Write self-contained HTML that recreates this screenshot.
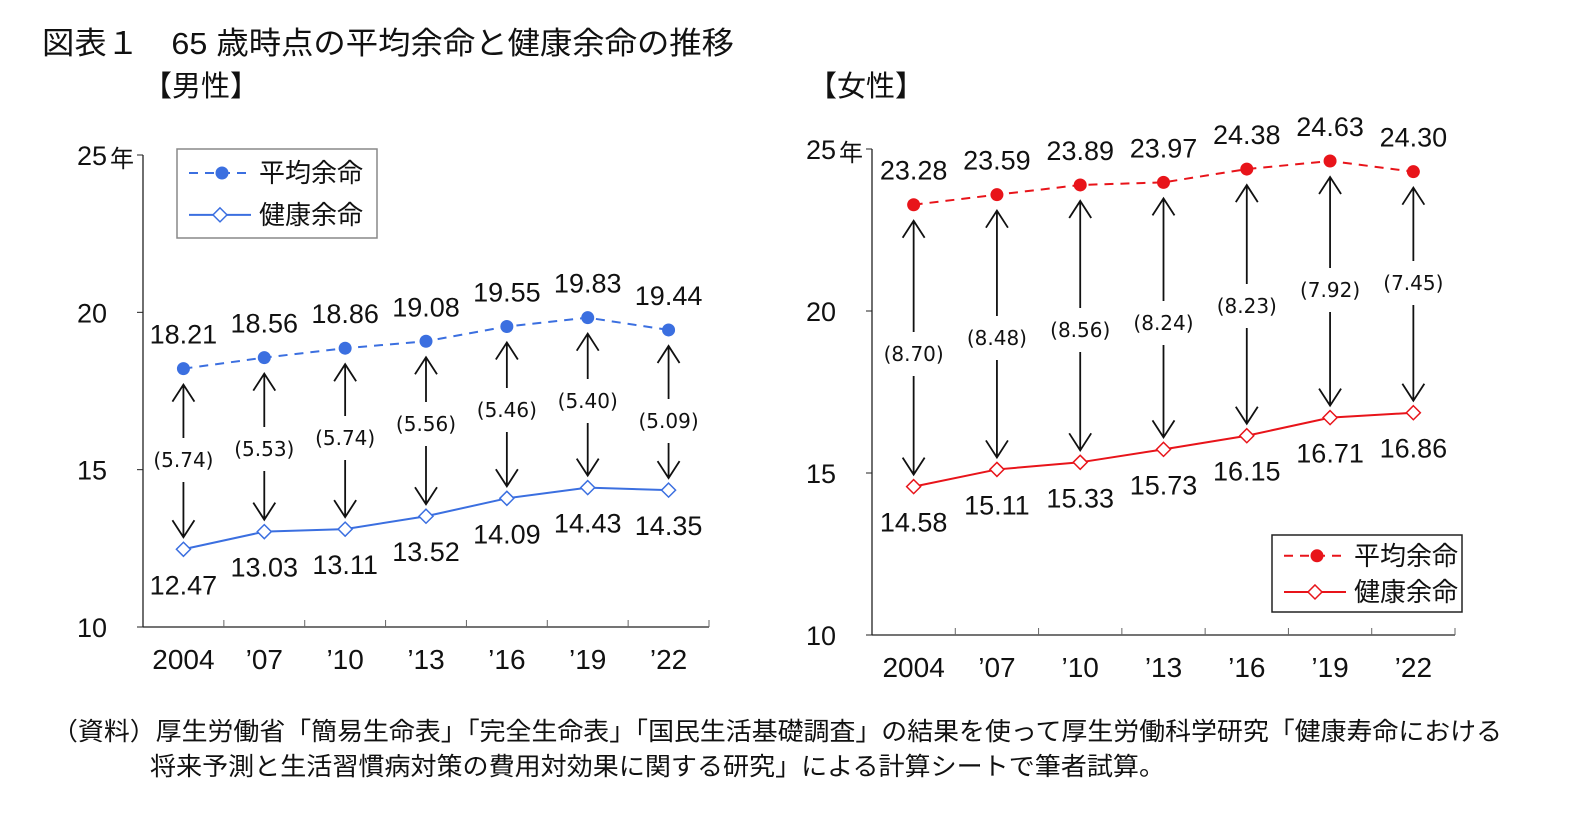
<!DOCTYPE html>
<html><head><meta charset="utf-8"><style>
body{margin:0;background:#fff;}
svg{display:block;font-family:"Liberation Sans","Noto Sans CJK JP",sans-serif;}
.num{font-family:"Liberation Sans","Noto Sans CJK JP",sans-serif;font-size:27px;fill:#111;}
.dif{font-family:"DejaVu Sans",sans-serif;font-size:20px;fill:#111;}
</style></head><body>
<svg id="c" width="1578" height="817" viewBox="0 0 1578 817">
<text x="42" y="54" font-size="31" fill="#111" textLength="692" lengthAdjust="spacingAndGlyphs">図表１　65 歳時点の平均余命と健康余命の推移</text>
<text x="143" y="96" font-size="29" fill="#111">【男性】</text>
<text x="808" y="96" font-size="29" fill="#111">【女性】</text>
<text x="52" y="740" font-size="25" fill="#111" textLength="1450" lengthAdjust="spacingAndGlyphs">（資料）厚生労働省「簡易生命表」「完全生命表」「国民生活基礎調査」の結果を使って厚生労働科学研究「健康寿命における</text>
<text x="150" y="775" font-size="25" fill="#111" textLength="1015" lengthAdjust="spacingAndGlyphs">将来予測と生活習慣病対策の費用対効果に関する研究」による計算シートで筆者試算。</text>
<g id="g"></g>
</svg>
<script>
const categories = ["2004","’07","’10","’13","’16","’19","’22"];
const maleAvg = [18.21,18.56,18.86,19.08,19.55,19.83,19.44];
const maleHealthy = [12.47,13.03,13.11,13.52,14.09,14.43,14.35];
const maleGap = ["(5.74)","(5.53)","(5.74)","(5.56)","(5.46)","(5.40)","(5.09)"];
const femaleAvg = [23.28,23.59,23.89,23.97,24.38,24.63,24.30];
const femaleHealthy = [14.58,15.11,15.33,15.73,16.15,16.71,16.86];
const femaleGap = ["(8.70)","(8.48)","(8.56)","(8.24)","(8.23)","(7.92)","(7.45)"];
const yTicks = [10,15,20,25];

const NS="http://www.w3.org/2000/svg";
const root=document.getElementById('g');
function mk(tag,attrs,parent){const e=document.createElementNS(NS,tag);for(const k in attrs)e.setAttribute(k,attrs[k]);(parent||root).appendChild(e);return e;}

function panel(p){
  const g=mk('g',{});
  
  
  const n=categories.length, bw=(p.x1-p.x0)/n;
  const X=i=>p.x0+bw*(i+0.5);
  const Y=v=>p.yb-(v-10)*(p.yb-p.yt)/15;
  const ya=mk('line',{x1:p.x0,y1:Y(25),x2:p.x0,y2:Y(10),stroke:'#222','stroke-width':1.3},g);
  
  
  const xa=mk('line',{x1:p.x0,y1:Y(10),x2:p.x1,y2:Y(10),stroke:'#222','stroke-width':1.3},g);
  
  
  yTicks.forEach(t=>{
    mk('line',{x1:p.x0-6,y1:Y(t),x2:p.x0,y2:Y(t),stroke:'#222'},g);
    const tx=mk('text',{x:p.x0-36,y:Y(t)+10,'text-anchor':'end','font-size':27,fill:'#111'},g);
    tx.textContent=t;
    
    
  });
  const unit=mk('text',{x:p.x0-33,y:Y(25)+12,'font-size':24,fill:'#111'},g);
  unit.textContent='年';
  
  
  for(let i=1;i<=n;i++) mk('line',{x1:p.x0+bw*i,y1:Y(10),x2:p.x0+bw*i,y2:Y(10)-7,stroke:'#666'},g);
  categories.forEach((c,i)=>{
    const t=mk('text',{x:X(i),y:Y(10)+42,'text-anchor':'middle','font-size':28,fill:'#111'},g);
    t.textContent=c;
    
    
  });
  p.avg.forEach((v,i)=>{
    const ly=p.gapY[i], x=X(i);
    const top=Y(v)+16, bot=Y(p.hl[i])-12;
    const a1=mk('path',{d:`M${x},${ly-22}V${top}M${x-11},${top+17}L${x},${top}L${x+11},${top+17}`,stroke:'#111','stroke-width':1.8,fill:'none'},g);
    
    
    const a2=mk('path',{d:`M${x},${ly+22}V${bot}M${x-11},${bot-17}L${x},${bot}L${x+11},${bot-17}`,stroke:'#111','stroke-width':1.8,fill:'none'},g);
    
    
    const t=mk('text',{x:x,y:ly+7,'text-anchor':'middle',class:'dif'},g);
    t.textContent=p.gap[i];
    
    
  });
  const l1=mk('polyline',{points:p.avg.map((v,i)=>X(i)+','+Y(v)).join(' '),stroke:p.col,'stroke-width':2,'stroke-dasharray':'9,7',fill:'none'},g);
  
  
  const l2=mk('polyline',{points:p.hl.map((v,i)=>X(i)+','+Y(v)).join(' '),stroke:p.col,'stroke-width':2,fill:'none'},g);
  
  
  p.avg.forEach((v,i)=>{
    const c=mk('circle',{cx:X(i),cy:Y(v),r:6.5,fill:p.col},g);
    
    
    const t=mk('text',{x:X(i),y:Y(v)-25,'text-anchor':'middle',class:'num'},g);
    t.textContent=v.toFixed(2);
    
    
  });
  p.hl.forEach((v,i)=>{
    const x=X(i),y=Y(v);
    const d=mk('path',{d:`M${x},${y-7}L${x+7},${y}L${x},${y+7}L${x-7},${y}Z`,fill:'#fff',stroke:p.col,'stroke-width':1.5},g);
    
    
    const t=mk('text',{x:x,y:y+45,'text-anchor':'middle',class:'num'},g);
    t.textContent=v.toFixed(2);
    
    
  });
  const L=p.leg;
  const lg=mk('g',{},g);
  
  
  mk('rect',{x:L.x,y:L.y,width:L.w,height:L.h,fill:'#fff',stroke:p.legStroke,'stroke-width':1.5},lg);
  const r1=L.y+L.h*0.27, r2=L.y+L.h*0.74;
  mk('line',{x1:L.x+12,y1:r1,x2:L.x+72,y2:r1,stroke:p.col,'stroke-width':2,'stroke-dasharray':'9,7'},lg);
  mk('circle',{cx:L.x+45,cy:r1,r:6.5,fill:p.col},lg);
  mk('line',{x1:L.x+12,y1:r2,x2:L.x+74,y2:r2,stroke:p.col,'stroke-width':2},lg);
  mk('path',{d:`M${L.x+43},${r2-7}L${L.x+50},${r2}L${L.x+43},${r2+7}L${L.x+36},${r2}Z`,fill:'#fff',stroke:p.col,'stroke-width':1.5},lg);
  const e1=mk('text',{x:L.x+82,y:r1+9,'font-size':26,fill:'#111'},lg);e1.textContent='平均余命';
  
  
  const e2=mk('text',{x:L.x+82,y:r2+9,'font-size':26,fill:'#111'},lg);e2.textContent='健康余命';
  
  
}
panel({name:'male-panel',x0:143,x1:709,yt:155,yb:627,col:'#3b6fe0',avg:maleAvg,hl:maleHealthy,gap:maleGap,
  gapY:[460,449,438,424,410,401,421],leg:{x:177,y:149,w:200,h:89},legStroke:'#888'});
panel({name:'female-panel',x0:872,x1:1455,yt:149,yb:635,col:'#e8141a',avg:femaleAvg,hl:femaleHealthy,gap:femaleGap,
  gapY:[354,338,330,323,306,290,283],leg:{x:1272,y:535,w:190,h:77},legStroke:'#222'});
</script>
</body></html>
